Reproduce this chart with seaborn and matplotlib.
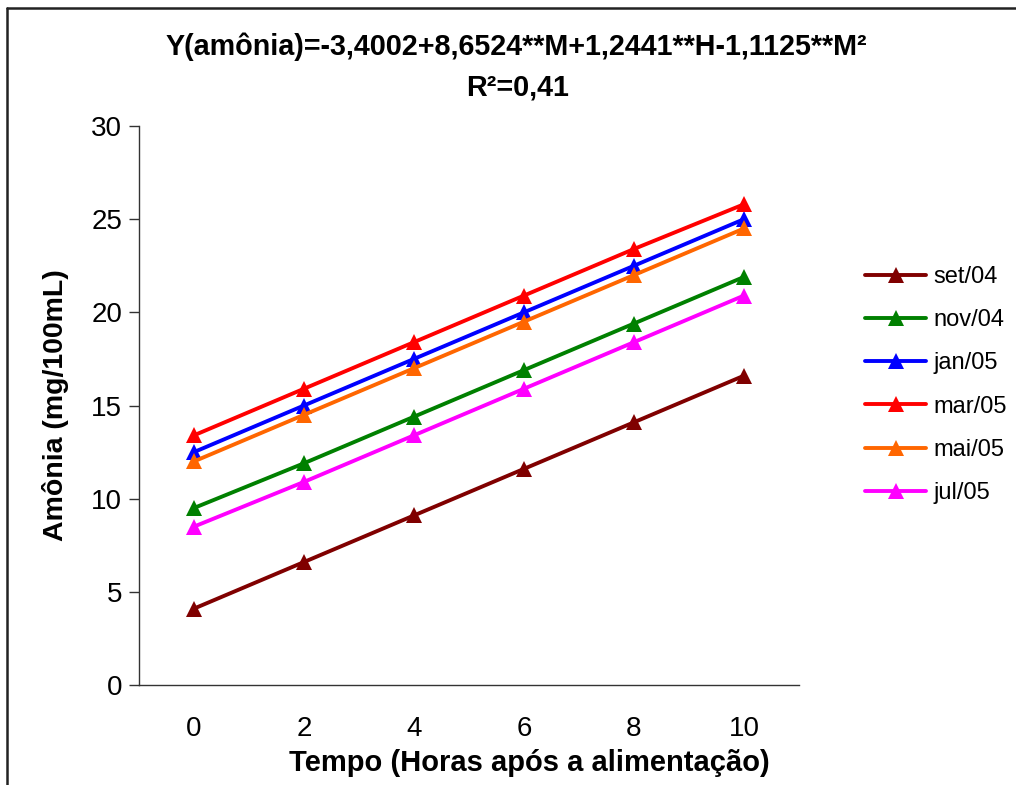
import matplotlib
matplotlib.use("Agg")
import matplotlib.pyplot as plt
from matplotlib.lines import Line2D
import seaborn as sns
import pandas as pd

# ---- data ----
hours = ["0", "2", "4", "6", "8", "10"]
series_names = ["set/04", "nov/04", "jan/05", "mar/05", "mai/05", "jul/05"]
set04 = [4.1, 6.6, 9.1, 11.6, 14.1, 16.6]
nov04 = [9.5, 11.9, 14.4, 16.9, 19.4, 21.9]
jan05 = [12.5, 15.0, 17.5, 20.0, 22.5, 25.0]
mar05 = [13.4, 15.9, 18.4, 20.9, 23.4, 25.8]
mai05 = [12.0, 14.5, 17.0, 19.5, 22.0, 24.5]
jul05 = [8.5, 10.9, 13.4, 15.9, 18.4, 20.9]
colors = ["#800000", "#008000", "#0000FF", "#FF0000", "#FF6600", "#FF00FF"]

all_vals = [set04, nov04, jan05, mar05, mai05, jul05]
rows = []
for name, vals in zip(series_names, all_vals):
    for i, v in enumerate(vals):
        rows.append({"pos": i, "hora": hours[i], "serie": name, "valor": v})
df = pd.DataFrame(rows)

sns.set_theme(style="white")
plt.rcParams["font.family"] = ["Liberation Sans", "DejaVu Sans"]
for k in ["text.color", "axes.labelcolor", "xtick.color", "ytick.color"]:
    plt.rcParams[k] = "black"

W, H = 1016, 785
fig = plt.figure(figsize=(W / 100, H / 100), dpi=100)
ax_l, ax_r, ax_t, ax_b = 139, 799, 126, 685
ax = fig.add_axes([ax_l / W, 1 - ax_b / H, (ax_r - ax_l) / W, (ax_b - ax_t) / H])

palette = dict(zip(series_names, colors))
sns.lineplot(data=df, x="pos", y="valor", hue="serie", palette=palette,
             hue_order=series_names, marker="^", markersize=12,
             markeredgewidth=0, linewidth=2.8, legend=False, ax=ax)
for ln, c in zip(ax.get_lines(), colors):
    ln.set_markeredgecolor(c)

ax.set_xlim(-0.5, 5.5)
ax.set_ylim(0, 30)
ax.set_yticks([0, 5, 10, 15, 20, 25, 30])
ax.set_xticks(range(len(hours)))
ax.set_xticklabels(hours)
ax.set_xticks([i - 0.5 for i in range(len(hours) + 1)], minor=True)
ax.tick_params(axis="x", which="major", length=0, pad=22, labelsize=20)
ax.tick_params(axis="x", which="minor", length=7, width=1, direction="out", color="#333333")
ax.tick_params(axis="y", which="major", length=7, width=1, direction="out", pad=5,
               labelsize=20, color="#333333", left=True)

for s in ["top", "right"]:
    ax.spines[s].set_visible(False)
for s in ["left", "bottom"]:
    ax.spines[s].set_color("#333333")
    ax.spines[s].set_linewidth(1)
ax.grid(False)

ax.set_xlabel("Tempo (Horas após a alimentação)", fontsize=21, fontweight="bold")
ax.set_ylabel("Amônia (mg/100mL)", fontsize=20.5, fontweight="bold")
ax.xaxis.label.set_va("center")
ax.yaxis.label.set_va("center")
ax.xaxis.set_label_coords((529 - ax_l) / (ax_r - ax_l), (ax_b - 763) / (ax_b - ax_t))
ax.yaxis.set_label_coords((55 - ax_l) / (ax_r - ax_l), 0.5)

fig.text(516 / W, 1 - 47 / H, "Y(amônia)=-3,4002+8,6524**M+1,2441**H-1,1125**M²",
         ha="center", va="center", fontsize=20.7, fontweight="bold")
fig.text(518 / W, 1 - 88 / H, "R²=0,41",
         ha="center", va="center", fontsize=20.7, fontweight="bold")

handles = [Line2D([0], [0], color=c, lw=2.8, marker="^", markersize=12,
                  markeredgewidth=0) for c in colors]
leg = fig.legend(handles, series_names, loc="upper left",
                 bbox_to_anchor=(865 / W, 1 - 266 / H), frameon=False,
                 fontsize=17, handlelength=2.6, handletextpad=0.3, labelspacing=0.9,
                 borderaxespad=0, borderpad=0)

# figure outline (top and left edges)
fig.add_artist(Line2D([7 / W, 1.0], [1 - 8 / H, 1 - 8 / H], transform=fig.transFigure,
                      color="#222222", lw=1.8))
fig.add_artist(Line2D([7 / W, 7 / W], [0, 1 - 8 / H], transform=fig.transFigure,
                      color="#222222", lw=1.8))

fig.savefig("out.png", dpi=100)
